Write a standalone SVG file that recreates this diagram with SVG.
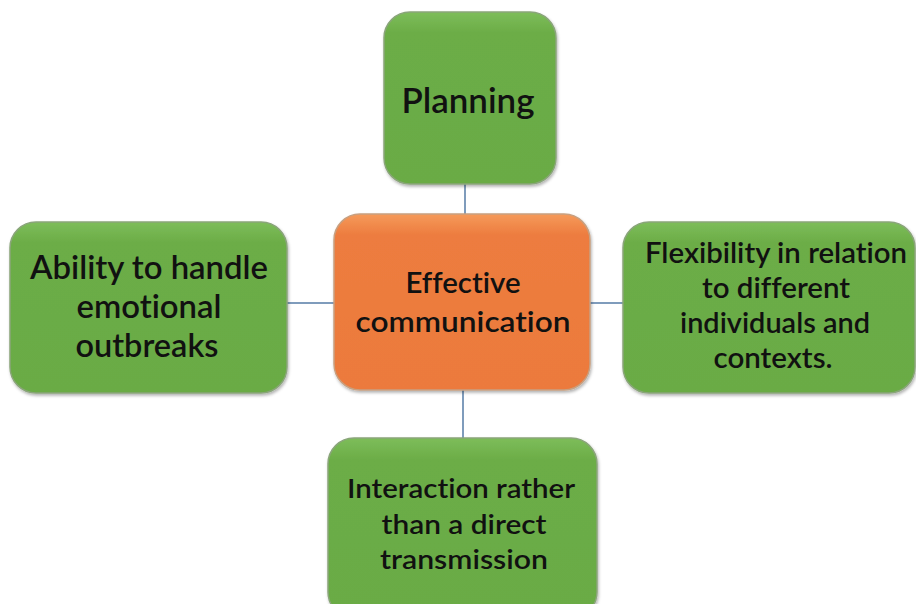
<svg xmlns="http://www.w3.org/2000/svg" width="916" height="604" viewBox="0 0 916 604">
<defs>
<linearGradient id="gg" x1="0" y1="0" x2="0" y2="1">
<stop offset="0" stop-color="#7dbd5a"/>
<stop offset="0.12" stop-color="#6cad47"/>
<stop offset="1" stop-color="#6aab45"/>
</linearGradient>
<linearGradient id="og" x1="0" y1="0" x2="0" y2="1">
<stop offset="0" stop-color="#f59a5a"/>
<stop offset="0.12" stop-color="#ed7c3f"/>
<stop offset="1" stop-color="#ec7a3c"/>
</linearGradient>
<filter id="sh" x="-10%" y="-10%" width="120%" height="120%">
<feDropShadow dx="1" dy="2" stdDeviation="1.5" flood-color="#000" flood-opacity="0.3"/>
</filter>
</defs>
<style>
.g{fill:url(#gg);stroke:#8aa57a;stroke-width:1.5;filter:url(#sh)}
.o{fill:url(#og);stroke:#c8a080;stroke-width:1.5;filter:url(#sh)}
.t{font-family:Lato,"Liberation Sans",sans-serif;fill:#111;text-anchor:middle;font-weight:600;font-variant-ligatures:none}
.c{stroke:#7f9cbc;stroke-width:2;fill:none}
</style>
<rect width="916" height="604" fill="#fff"/>
<g id="connectors">
<line class="c" x1="465" y1="184" x2="465" y2="214"/>
<line class="c" x1="463" y1="390" x2="463" y2="438"/>
<line class="c" x1="287" y1="303" x2="334" y2="303"/>
<line class="c" x1="590" y1="303" x2="624" y2="303"/>
</g>
<g id="planning">
<rect class="g" x="384" y="12" width="172" height="172" rx="26"/>
<text class="t" x="468" y="113" font-size="34" textLength="133" lengthAdjust="spacingAndGlyphs">Planning</text>
</g>
<g id="effective">
<rect class="o" x="334" y="214" width="256" height="176" rx="26"/>
<text class="t" x="463" y="293" font-size="28" textLength="115" lengthAdjust="spacingAndGlyphs">Effective</text>
<text class="t" x="463" y="332" font-size="28" textLength="215" lengthAdjust="spacingAndGlyphs">communication</text>
</g>
<g id="ability">
<rect class="g" x="10" y="222" width="277" height="171" rx="26"/>
<text class="t" x="149" y="279" font-size="32" textLength="238" lengthAdjust="spacingAndGlyphs">Ability to handle</text>
<text class="t" x="149" y="318" font-size="32" textLength="145" lengthAdjust="spacingAndGlyphs">emotional</text>
<text class="t" x="147" y="357" font-size="32" textLength="143" lengthAdjust="spacingAndGlyphs">outbreaks</text>
</g>
<g id="flexibility">
<rect class="g" x="623" y="222" width="292" height="171" rx="26"/>
<text class="t" x="776" y="263" font-size="28" textLength="262" lengthAdjust="spacingAndGlyphs">Flexibility in relation</text>
<text class="t" x="776" y="298" font-size="28" textLength="148" lengthAdjust="spacingAndGlyphs">to different</text>
<text class="t" x="775" y="333" font-size="28" textLength="190" lengthAdjust="spacingAndGlyphs">individuals and</text>
<text class="t" x="773" y="368" font-size="28" textLength="119" lengthAdjust="spacingAndGlyphs">contexts.</text>
</g>
<g id="interaction">
<rect class="g" x="328" y="438" width="269" height="180" rx="26"/>
<text class="t" x="461" y="498" font-size="27" textLength="228" lengthAdjust="spacingAndGlyphs">Interaction rather</text>
<text class="t" x="464" y="534" font-size="27" textLength="165" lengthAdjust="spacingAndGlyphs">than a direct</text>
<text class="t" x="464" y="569" font-size="27" textLength="168" lengthAdjust="spacingAndGlyphs">transmission</text>
</g>
</svg>
